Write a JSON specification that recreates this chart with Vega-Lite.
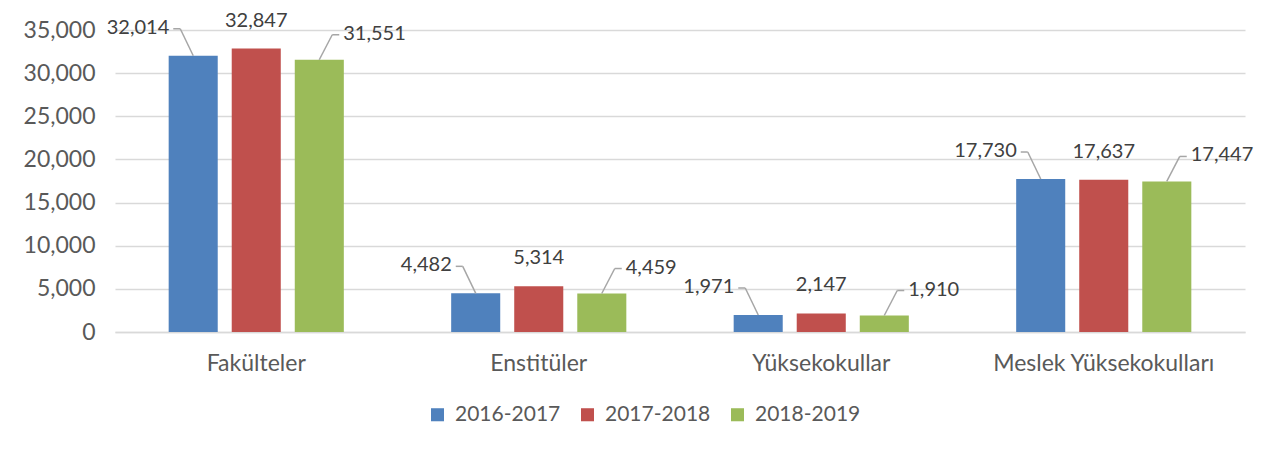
{
  "$schema": "https://vega.github.io/schema/vega-lite/v6.json",
  "width": 1130,
  "height": 302,
  "autosize": {"type": "none"},
  "padding": {"left": 115, "top": 30, "right": 39, "bottom": 123},
  "background": "white",
  "config": {
    "font": "Lato",
    "view": {"stroke": null},
    "axis": {"labelFont": "Lato", "labelColor": "#595959", "labelFontSize": 23, "ticks": false, "title": null, "labelLimit": 0}
  },
  "data": {
    "values": [
      {"category": "Fakülteler", "year": "2016-2017", "value": 32014},
      {"category": "Fakülteler", "year": "2017-2018", "value": 32847},
      {"category": "Fakülteler", "year": "2018-2019", "value": 31551},
      {"category": "Enstitüler", "year": "2016-2017", "value": 4482},
      {"category": "Enstitüler", "year": "2017-2018", "value": 5314},
      {"category": "Enstitüler", "year": "2018-2019", "value": 4459},
      {"category": "Yüksekokullar", "year": "2016-2017", "value": 1971},
      {"category": "Yüksekokullar", "year": "2017-2018", "value": 2147},
      {"category": "Yüksekokullar", "year": "2018-2019", "value": 1910},
      {"category": "Meslek Yüksekokulları", "year": "2016-2017", "value": 17730},
      {"category": "Meslek Yüksekokulları", "year": "2017-2018", "value": 17637},
      {"category": "Meslek Yüksekokulları", "year": "2018-2019", "value": 17447}
    ]
  },
  "encoding": {
    "x": {
      "field": "category", "type": "nominal",
      "sort": ["Fakülteler", "Enstitüler", "Yüksekokullar", "Meslek Yüksekokulları"],
      "scale": {"paddingInner": 0.38, "paddingOuter": 0.19},
      "axis": {"labelAngle": 0, "domain": true, "domainColor": "#d9d9d9", "domainWidth": 1.5, "labelPadding": 20, "grid": false}
    },
    "y": {
      "field": "value", "type": "quantitative",
      "scale": {"domain": [0, 35000], "nice": false},
      "axis": {"values": [0, 5000, 10000, 15000, 20000, 25000, 30000, 35000], "format": ",d", "domain": false, "grid": true, "gridColor": "#d9d9d9", "gridWidth": 1.5, "labelPadding": 20}
    }
  },
  "layer": [
    {
      "mark": {"type": "bar"},
      "encoding": {
        "xOffset": {
          "field": "year", "type": "nominal",
          "scale": {"paddingInner": 0.222, "paddingOuter": 0}
        },
        "color": {
          "field": "year", "type": "nominal",
          "scale": {"range": ["#4F81BD", "#C0504D", "#9BBB59"]},
          "legend": {
            "title": null, "orient": "none", "legendX": 312, "legendY": 374, "direction": "horizontal",
            "symbolType": "square", "symbolSize": 170, "symbolStrokeWidth": 0,
            "labelFontSize": 21, "labelColor": "#595959", "labelFont": "Lato",
            "columnPadding": 16, "labelOffset": 7
          }
        }
      }
    },
    {
      "transform": [{"filter": "datum.year == '2016-2017'"}],
      "mark": {"type": "rule", "color": "#a6a6a6", "strokeWidth": 1.5, "xOffset": -63, "x2Offset": -76, "y2Offset": -27},
      "encoding": {"x2": {"field": "category"}, "y2": {"field": "value"}}
    },
    {
      "transform": [{"filter": "datum.year == '2016-2017'"}],
      "mark": {"type": "rule", "color": "#a6a6a6", "strokeWidth": 1.5, "xOffset": -76, "yOffset": -27, "x2Offset": -83, "y2Offset": -27},
      "encoding": {"x2": {"field": "category"}, "y2": {"field": "value"}}
    },
    {
      "transform": [{"filter": "datum.year == '2018-2019'"}],
      "mark": {"type": "rule", "color": "#a6a6a6", "strokeWidth": 1.5, "xOffset": 63, "x2Offset": 76, "y2Offset": -25},
      "encoding": {"x2": {"field": "category"}, "y2": {"field": "value"}}
    },
    {
      "transform": [{"filter": "datum.year == '2018-2019'"}],
      "mark": {"type": "rule", "color": "#a6a6a6", "strokeWidth": 1.5, "xOffset": 76, "yOffset": -25, "x2Offset": 83, "y2Offset": -25},
      "encoding": {"x2": {"field": "category"}, "y2": {"field": "value"}}
    },
    {
      "transform": [{"filter": "datum.year == '2016-2017'"}],
      "mark": {"type": "text", "align": "right", "baseline": "middle", "dx": -87, "dy": -28, "fontSize": 20, "color": "#404040"},
      "encoding": {"text": {"field": "value", "type": "quantitative", "format": ",d"}}
    },
    {
      "transform": [{"filter": "datum.year == '2017-2018'"}],
      "mark": {"type": "text", "align": "center", "baseline": "middle", "dy": -28, "fontSize": 20, "color": "#404040"},
      "encoding": {"text": {"field": "value", "type": "quantitative", "format": ",d"}}
    },
    {
      "transform": [{"filter": "datum.year == '2018-2019'"}],
      "mark": {"type": "text", "align": "left", "baseline": "middle", "dx": 87, "dy": -26, "fontSize": 20, "color": "#404040"},
      "encoding": {"text": {"field": "value", "type": "quantitative", "format": ",d"}}
    }
  ]
}
